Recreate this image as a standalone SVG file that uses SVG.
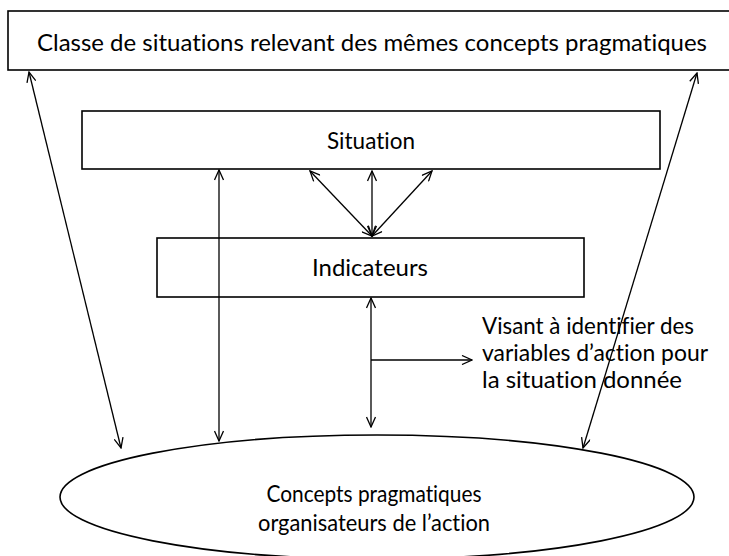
<svg xmlns="http://www.w3.org/2000/svg" width="729" height="556" viewBox="0 0 729 556">
<style>
  .box { fill: #fff; stroke: #000; stroke-width: 1.6; }
  .lbl { font-family: "Lato", "Liberation Sans", sans-serif; font-size: 23px; fill: #000; font-variant-ligatures: none; }
  .mid { text-anchor: middle; }
  .c { fill: none; stroke: #000; stroke-width: 1.3; }
</style>
<defs>
  <marker id="ah" viewBox="0 0 12 10" refX="11" refY="5" markerWidth="12" markerHeight="10" markerUnits="userSpaceOnUse" orient="auto-start-reverse">
    <path d="M1,0.5 L11,5 L1,9.5" fill="none" stroke="#000" stroke-width="1.3"/>
  </marker>
</defs>
<rect width="729" height="556" fill="#fff"/>
<g id="classe">
  <rect class="box" x="8" y="11" width="740" height="59"/>
  <text class="lbl mid" x="372" y="51" textLength="670" lengthAdjust="spacingAndGlyphs">Classe de situations relevant des mêmes concepts pragmatiques</text>
</g>
<g id="situation">
  <rect class="box" x="82" y="111" width="578" height="58"/>
  <text class="lbl mid" x="371" y="149" textLength="88" lengthAdjust="spacingAndGlyphs">Situation</text>
</g>
<g id="indicateurs">
  <rect class="box" x="157" y="238" width="427" height="59"/>
  <text class="lbl mid" x="370" y="276" textLength="116" lengthAdjust="spacingAndGlyphs">Indicateurs</text>
</g>
<g id="concepts">
  <ellipse class="box" cx="377" cy="497" rx="317" ry="62"/>
  <text class="lbl mid" x="374" y="502" textLength="215" lengthAdjust="spacingAndGlyphs">Concepts pragmatiques</text>
  <text class="lbl mid" x="374" y="531" textLength="232" lengthAdjust="spacingAndGlyphs">organisateurs de l’action</text>
</g>
<g id="note">
  <text class="lbl" x="482" y="334" textLength="212" lengthAdjust="spacingAndGlyphs">Visant à identifier des</text>
  <text class="lbl" x="482" y="361" textLength="226" lengthAdjust="spacingAndGlyphs">variables d’action pour</text>
  <text class="lbl" x="482" y="388" textLength="200" lengthAdjust="spacingAndGlyphs">la situation donnée</text>
</g>
<g id="connectors">
  <line class="c" x1="29" y1="72" x2="121" y2="448" marker-start="url(#ah)" marker-end="url(#ah)"/>
  <line class="c" x1="697" y1="73" x2="583" y2="448" marker-start="url(#ah)" marker-end="url(#ah)"/>
  <line class="c" x1="219" y1="170" x2="219" y2="441" marker-start="url(#ah)" marker-end="url(#ah)"/>
  <line class="c" x1="372" y1="236" x2="310" y2="171" marker-start="url(#ah)" marker-end="url(#ah)"/>
  <line class="c" x1="372" y1="236" x2="372" y2="171" marker-start="url(#ah)" marker-end="url(#ah)" stroke-width="2"/>
  <line class="c" x1="372" y1="236" x2="432" y2="171" marker-start="url(#ah)" marker-end="url(#ah)"/>
  <line class="c" x1="371" y1="298" x2="371" y2="427" marker-start="url(#ah)" marker-end="url(#ah)"/>
  <line class="c" x1="371" y1="360" x2="472" y2="360" marker-end="url(#ah)"/>
</g>
</svg>
